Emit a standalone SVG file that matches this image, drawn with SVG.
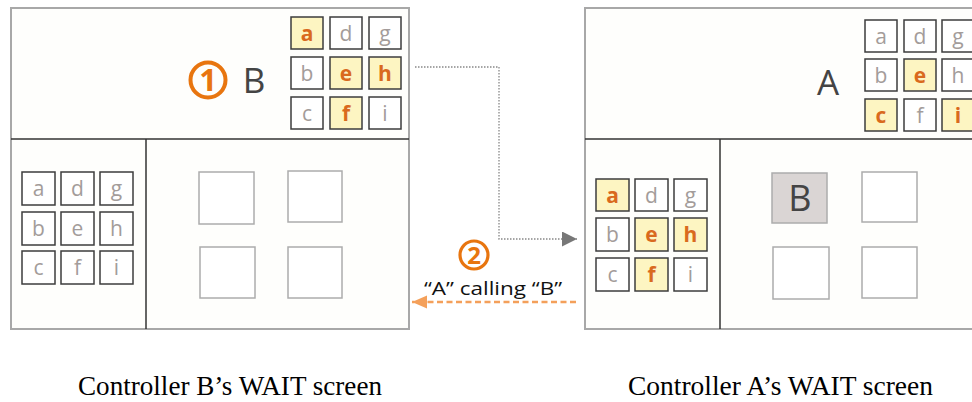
<svg xmlns="http://www.w3.org/2000/svg" width="972" height="402" viewBox="0 0 972 402">
<style>
.panel{fill:#FEFEFC;stroke:#A8A8A8;stroke-width:2}
.div{stroke:#333;stroke-width:1.5;fill:none}
.c{fill:#FFFFFF;stroke:#3C3C3C;stroke-width:1.5}
.h{fill:#FDF5C2;stroke:#3C3C3C;stroke-width:1.5}
.t{font-family:"Open Sans","Noto Sans",sans-serif;font-size:21px;fill:#A39C9A;text-anchor:middle}
.ht{font-family:"Open Sans","Noto Sans",sans-serif;font-size:21px;font-weight:bold;fill:#D96A1E;text-anchor:middle}
.sq{fill:#FFFFFF;stroke:#ACACAC;stroke-width:1.5}
.big{font-family:"Open Sans","Noto Sans",sans-serif;fill:#444;text-anchor:middle}
.num{fill:none;stroke:#E8750F;stroke-width:4}
.numt{font-family:"Open Sans","Noto Sans",sans-serif;font-weight:bold;fill:#E8750F;text-anchor:middle}
.cap{font-family:"Liberation Serif","Times New Roman",serif;font-size:26.6px;fill:#000}
</style>
<defs>
<marker id="ag" markerWidth="16" markerHeight="16" refX="15" refY="7.5" orient="auto" markerUnits="userSpaceOnUse">
<path d="M0,0 L15,7.5 L0,15 Z" fill="#777"/>
</marker>
<marker id="ao" markerWidth="16" markerHeight="14" refX="15" refY="6.5" orient="auto" markerUnits="userSpaceOnUse">
<path d="M0,0 L15,6.5 L0,13 Z" fill="#F4A05A"/>
</marker>
</defs>

<g id="panelB">
<rect class="panel" x="11" y="8" width="398" height="321"/>
<line class="div" x1="11" y1="139" x2="409" y2="139"/>
<line class="div" x1="146" y1="139" x2="146" y2="329"/>
<g id="B-topgrid">
<rect class="h" x="291" y="17" width="32" height="32"/><text class="ht" x="307" y="41">a</text>
<rect class="c" x="291" y="57" width="32" height="32"/><text class="t" x="307" y="81">b</text>
<rect class="c" x="291" y="97" width="32" height="32"/><text class="t" x="307" y="121">c</text>
<rect class="c" x="330" y="17" width="32" height="32"/><text class="t" x="346" y="41">d</text>
<rect class="h" x="330" y="57" width="32" height="32"/><text class="ht" x="346" y="81">e</text>
<rect class="h" x="330" y="97" width="32" height="32"/><text class="ht" x="346" y="121">f</text>
<rect class="c" x="369" y="17" width="32" height="32"/><text class="t" x="385" y="41">g</text>
<rect class="h" x="369" y="57" width="32" height="32"/><text class="ht" x="385" y="81">h</text>
<rect class="c" x="369" y="97" width="32" height="32"/><text class="t" x="385" y="121">i</text>
</g>
<g id="B-label">
<circle class="num" cx="208" cy="80" r="17.5"/>
<text class="numt" x="208" y="91" font-size="31">1</text>
<text class="big" x="254" y="93" font-size="35">B</text>
</g>
<g id="B-bottomgrid">
<rect class="c" x="22" y="172" width="33" height="33"/><text class="t" x="38.5" y="196">a</text>
<rect class="c" x="22" y="212" width="33" height="33"/><text class="t" x="38.5" y="236">b</text>
<rect class="c" x="22" y="251" width="33" height="33"/><text class="t" x="38.5" y="275">c</text>
<rect class="c" x="61" y="172" width="33" height="33"/><text class="t" x="77.5" y="196">d</text>
<rect class="c" x="61" y="212" width="33" height="33"/><text class="t" x="77.5" y="236">e</text>
<rect class="c" x="61" y="251" width="33" height="33"/><text class="t" x="77.5" y="275">f</text>
<rect class="c" x="100" y="172" width="33" height="33"/><text class="t" x="116.5" y="196">g</text>
<rect class="c" x="100" y="212" width="33" height="33"/><text class="t" x="116.5" y="236">h</text>
<rect class="c" x="100" y="251" width="33" height="33"/><text class="t" x="116.5" y="275">i</text>
</g>
<g id="B-squares">
<rect class="sq" x="199" y="172" width="55" height="52"/>
<rect class="sq" x="288" y="171" width="54" height="51"/>
<rect class="sq" x="200" y="247" width="55" height="51"/>
<rect class="sq" x="288" y="247" width="54" height="51"/>
</g>
</g>

<g id="panelA">
<rect class="panel" x="585" y="8" width="400" height="321"/>
<line class="div" x1="585" y1="139" x2="972" y2="139"/>
<line class="div" x1="720" y1="139" x2="720" y2="329"/>
<g id="A-topgrid">
<rect class="c" x="865" y="20" width="32" height="32"/><text class="t" x="881" y="44">a</text>
<rect class="c" x="865" y="59" width="32" height="32"/><text class="t" x="881" y="83">b</text>
<rect class="h" x="865" y="99" width="32" height="32"/><text class="ht" x="881" y="123">c</text>
<rect class="c" x="904" y="20" width="32" height="32"/><text class="t" x="920" y="44">d</text>
<rect class="h" x="904" y="59" width="32" height="32"/><text class="ht" x="920" y="83">e</text>
<rect class="c" x="904" y="99" width="32" height="32"/><text class="t" x="920" y="123">f</text>
<rect class="c" x="942" y="20" width="32" height="32"/><text class="t" x="958" y="44">g</text>
<rect class="c" x="942" y="59" width="32" height="32"/><text class="t" x="958" y="83">h</text>
<rect class="h" x="942" y="99" width="32" height="32"/><text class="ht" x="958" y="123">i</text>
</g>
<g id="A-label">
<text class="big" x="828" y="95" font-size="35">A</text>
</g>
<g id="A-bottomgrid">
<rect class="h" x="596" y="179" width="33" height="32"/><text class="ht" x="612.5" y="203">a</text>
<rect class="c" x="596" y="218" width="33" height="33"/><text class="t" x="612.5" y="242">b</text>
<rect class="c" x="596" y="258" width="33" height="33"/><text class="t" x="612.5" y="282">c</text>
<rect class="c" x="635" y="179" width="33" height="32"/><text class="t" x="651.5" y="203">d</text>
<rect class="h" x="635" y="218" width="33" height="33"/><text class="ht" x="651.5" y="242">e</text>
<rect class="h" x="635" y="258" width="33" height="33"/><text class="ht" x="651.5" y="282">f</text>
<rect class="c" x="674" y="179" width="33" height="32"/><text class="t" x="690.5" y="203">g</text>
<rect class="h" x="674" y="218" width="33" height="33"/><text class="ht" x="690.5" y="242">h</text>
<rect class="c" x="674" y="258" width="33" height="33"/><text class="t" x="690.5" y="282">i</text>
</g>
<g id="A-squares">
<rect x="772" y="173" width="55" height="50" fill="#DAD5D4" stroke="#ACACAC" stroke-width="1.5"/>
<text class="big" x="800" y="211" font-size="36" fill="#333">B</text>
<rect class="sq" x="862" y="172" width="55" height="50"/>
<rect class="sq" x="773" y="247" width="56" height="52"/>
<rect class="sq" x="862" y="247" width="55" height="51"/>
</g>
</g>

<g id="connectors">
<polyline points="415,67 499,67 499,239 577,239" fill="none" stroke="#888" stroke-width="1.3" stroke-dasharray="1.5,1.5" marker-end="url(#ag)"/>
<line x1="576" y1="302" x2="412" y2="302" stroke="#F4A05A" stroke-width="2.5" stroke-dasharray="6,3.5" marker-end="url(#ao)"/>
</g>

<g id="call-label">
<circle cx="474" cy="255" r="14" fill="none" stroke="#E8750F" stroke-width="3.2"/>
<text class="numt" x="474" y="263.5" font-size="24">2</text>
<text x="493" y="295" font-family="Open Sans, Noto Sans, sans-serif" font-size="19" fill="#111" text-anchor="middle" textLength="138" lengthAdjust="spacingAndGlyphs">“A” calling “B”</text>
</g>

<g id="captions">
<text class="cap" x="78" y="395" textLength="304" lengthAdjust="spacingAndGlyphs">Controller B’s WAIT screen</text>
<text class="cap" x="628" y="395" textLength="305" lengthAdjust="spacingAndGlyphs">Controller A’s WAIT screen</text>
</g>
</svg>
